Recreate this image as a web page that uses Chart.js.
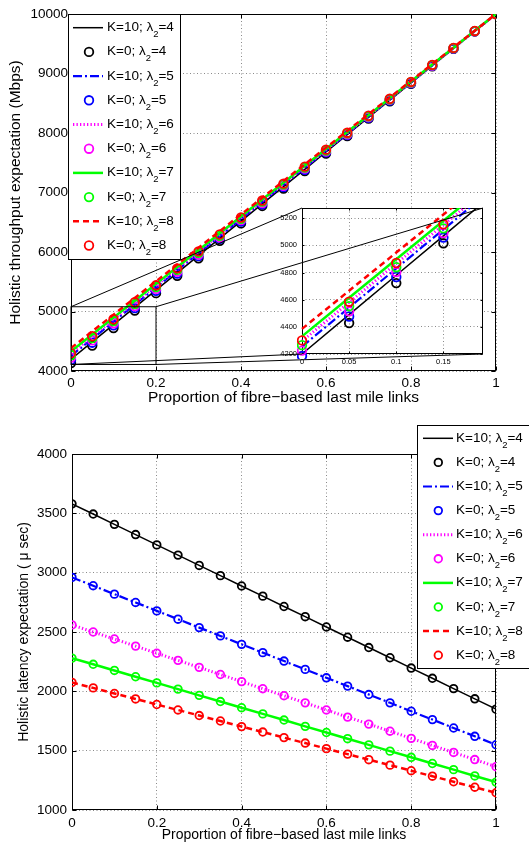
<!DOCTYPE html>
<html>
<head>
<meta charset="utf-8">
<title>Holistic throughput and latency expectation</title>
<script src="https://cdn.jsdelivr.net/npm/chart.js@4.4.1/dist/chart.umd.min.js"></script>
<style>
  html, body { margin: 0; padding: 0; background: #fff; }
  #wrap { position: relative; width: 529px; height: 844px; overflow: hidden; }
  canvas { position: absolute; left: 0; }
  #throughputChart { top: 0; }
  #insetChart { top: 0; z-index: 2; }
  #latencyChart { top: 420px; }
</style>
</head>
<body>
<div id="wrap">
  <canvas id="throughputChart" width="529" height="420"></canvas>
  <canvas id="insetChart" width="529" height="420"></canvas>
  <canvas id="latencyChart" width="529" height="424"></canvas>
</div>
<script>
const fontFamily = "'Liberation Sans', Arial, Helvetica, sans-serif";
Chart.defaults.font.family = fontFamily;
Chart.defaults.color = '#000';

const fibreShare = [0, 0.05, 0.1, 0.15, 0.2, 0.25, 0.3, 0.35, 0.4, 0.45, 0.5, 0.55, 0.6, 0.65, 0.7, 0.75, 0.8, 0.85, 0.9, 0.95, 1];
const lambdas = [4, 5, 6, 7, 8];

// throughput (Mbps), K=10 curves
const tputK10L4 = [4200, 4490, 4780, 5070, 5360, 5650, 5940, 6230, 6520, 6810, 7100, 7390, 7680, 7970, 8260, 8550, 8840, 9130, 9420, 9710, 10000];
const tputK10L5 = [4255, 4542, 4830, 5117, 5404, 5691, 5979, 6266, 6553, 6840, 7128, 7415, 7702, 7989, 8277, 8564, 8851, 9138, 9426, 9713, 10000];
const tputK10L6 = [4295, 4580, 4866, 5151, 5436, 5721, 6007, 6292, 6577, 6862, 7148, 7433, 7718, 8003, 8289, 8574, 8859, 9144, 9430, 9715, 10000];
const tputK10L7 = [4330, 4614, 4897, 5181, 5464, 5748, 6031, 6315, 6598, 6882, 7165, 7449, 7732, 8016, 8299, 8583, 8866, 9150, 9433, 9717, 10000];
const tputK10L8 = [4385, 4666, 4947, 5227, 5508, 5789, 6070, 6350, 6631, 6912, 7193, 7473, 7754, 8035, 8316, 8596, 8877, 9158, 9439, 9719, 10000];
// throughput (Mbps), K=0 markers
const tputK0L4 = [4135, 4428, 4722, 5015, 5308, 5601, 5895, 6188, 6481, 6774, 7068, 7361, 7654, 7947, 8241, 8534, 8827, 9120, 9414, 9707, 10000];
const tputK0L5 = [4185, 4476, 4767, 5057, 5348, 5639, 5930, 6220, 6511, 6802, 7093, 7383, 7674, 7965, 8256, 8546, 8837, 9128, 9419, 9709, 10000];
const tputK0L6 = [4225, 4514, 4803, 5091, 5380, 5669, 5958, 6246, 6535, 6824, 7113, 7401, 7690, 7979, 8268, 8556, 8845, 9134, 9423, 9711, 10000];
const tputK0L7 = [4265, 4552, 4839, 5125, 5412, 5699, 5986, 6272, 6559, 6846, 7133, 7419, 7706, 7993, 8280, 8566, 8853, 9140, 9427, 9713, 10000];
const tputK0L8 = [4300, 4585, 4870, 5155, 5440, 5725, 6010, 6295, 6580, 6865, 7150, 7435, 7720, 8005, 8290, 8575, 8860, 9145, 9430, 9715, 10000];

// latency (micro sec), K=10 curves; the K=0 markers sit on the same values
const latK10L4 = [3580, 3494, 3407, 3321, 3234, 3148, 3061, 2975, 2888, 2802, 2715, 2629, 2542, 2456, 2369, 2283, 2196, 2110, 2023, 1937, 1850];
const latK10L5 = [2960, 2890, 2819, 2749, 2678, 2608, 2537, 2467, 2396, 2326, 2255, 2185, 2114, 2044, 1973, 1903, 1832, 1762, 1691, 1621, 1550];
const latK10L6 = [2560, 2500, 2441, 2381, 2321, 2261, 2202, 2142, 2082, 2022, 1963, 1903, 1843, 1783, 1724, 1664, 1604, 1544, 1485, 1425, 1365];
const latK10L7 = [2280, 2228, 2176, 2123, 2071, 2019, 1966, 1914, 1862, 1810, 1758, 1705, 1653, 1601, 1549, 1496, 1444, 1392, 1340, 1287, 1235];
const latK10L8 = [2075, 2029, 1982, 1936, 1889, 1843, 1796, 1750, 1703, 1657, 1610, 1564, 1517, 1471, 1424, 1378, 1331, 1285, 1238, 1192, 1145];
const latK0L4 = latK10L4;
const latK0L5 = latK10L5;
const latK0L6 = latK10L6;
const latK0L7 = latK10L7;
const latK0L8 = latK10L8;

const shareTicks = [0, 0.2, 0.4, 0.6, 0.8, 1];
const tputTicks = [4000, 5000, 6000, 7000, 8000, 9000, 10000];
const latTicks = [1000, 1500, 2000, 2500, 3000, 3500, 4000];
const insetShareTicks = [0, 0.05, 0.1, 0.15];
const insetTputTicks = [4200, 4400, 4600, 4800, 5000, 5200];
const insetShareRange = [0, 0.192];
const insetTputRange = [4200, 5275];
const zoomShareRange = [0, 0.2];
const zoomTputRange = [4110, 5080];

const seriesStyles = [
  { color: '#000000', width: 1.5, dash: [] },
  { color: '#0000ff', width: 2.2, dash: [9, 3, 2, 3] },
  { color: '#ff00ff', width: 3, dash: [1.3, 2.2] },
  { color: '#00ff00', width: 2.5, dash: [] },
  { color: '#ff0000', width: 2.5, dash: [6, 4] }
];

function toPoints(values) {
  return values.map((v, i) => ({ x: fibreShare[i], y: v }));
}

function buildDatasets(k10Series, k0Series, radius, clip) {
  const sets = [];
  lambdas.forEach((lam, i) => {
    const st = seriesStyles[i];
    sets.push({
      label: `K=10; λ₂=${lam}`,
      data: toPoints(k10Series[i]),
      borderColor: st.color,
      borderWidth: st.width,
      borderDash: st.dash,
      pointRadius: 0,
      pointHoverRadius: 0,
      tension: 0,
      clip: clip,
      order: 20 - sets.length
    });
    sets.push({
      label: `K=0; λ₂=${lam}`,
      data: toPoints(k0Series[i]),
      showLine: false,
      borderColor: st.color,
      backgroundColor: 'rgba(0,0,0,0)',
      pointStyle: 'circle',
      pointRadius: radius,
      pointHoverRadius: radius,
      pointBorderColor: st.color,
      pointBackgroundColor: 'rgba(0,0,0,0)',
      pointBorderWidth: 1.8,
      clip: clip,
      order: 20 - sets.length
    });
  });
  return sets;
}

function linearScale(cfg) {
  return {
    type: 'linear',
    min: cfg.min,
    max: cfg.max,
    afterBuildTicks: scale => { scale.ticks = cfg.ticks.map(v => ({ value: v })); },
    afterFit: scale => {
      if (scale.isHorizontal()) scale.height = cfg.box;
      else scale.width = cfg.box;
    },
    grid: { color: '#8a8a8a', lineWidth: 1, drawTicks: false },
    border: { display: false, dash: [1, 2.5] },
    ticks: {
      font: { size: cfg.fontSize },
      padding: cfg.pad,
      maxRotation: 0,
      autoSkip: false,
      callback: v => String(v)
    },
    title: cfg.title
      ? { display: true, text: cfg.title, font: { size: cfg.titleSize }, padding: cfg.titlePad }
      : { display: false }
  };
}

function frameTicks(len) {
  return {
    id: 'frameTicks',
    beforeDatasetsDraw(chart) {
      const { ctx, chartArea: a, scales } = chart;
      const x0 = Math.round(a.left) + 0.5;
      const x1 = Math.round(a.right) - 0.5;
      const y0 = Math.round(a.top) + 0.5;
      const y1 = Math.round(a.bottom) - 0.5;
      ctx.save();
      ctx.strokeStyle = '#000';
      ctx.lineWidth = 1;
      ctx.setLineDash([]);
      ctx.strokeRect(x0, y0, x1 - x0, y1 - y0);
      ctx.beginPath();
      scales.x.ticks.forEach(t => {
        const px = Math.round(scales.x.getPixelForValue(t.value)) + 0.5;
        ctx.moveTo(px, y1); ctx.lineTo(px, y1 - len);
        ctx.moveTo(px, y0); ctx.lineTo(px, y0 + len);
      });
      scales.y.ticks.forEach(t => {
        const py = Math.round(scales.y.getPixelForValue(t.value)) + 0.5;
        ctx.moveTo(x0, py); ctx.lineTo(x0 + len, py);
        ctx.moveTo(x1, py); ctx.lineTo(x1 - len, py);
      });
      ctx.stroke();
      ctx.restore();
    }
  };
}

function drawLabel(ctx, text, x, y, size) {
  const parts = text.split('₂');
  const base = y + size * 0.26;
  ctx.fillStyle = '#000';
  ctx.textAlign = 'left';
  ctx.textBaseline = 'alphabetic';
  ctx.font = `${size}px ${fontFamily}`;
  ctx.fillText(parts[0], x, base);
  let cx = x + ctx.measureText(parts[0]).width;
  if (parts.length > 1) {
    ctx.font = `${size * 0.7}px ${fontFamily}`;
    ctx.fillText('2', cx, base + size * 0.45);
    cx += ctx.measureText('2').width;
    ctx.font = `${size}px ${fontFamily}`;
    ctx.fillText(parts[1], cx, base);
  }
}

function boxLegend(box) {
  return {
    id: 'boxLegend',
    afterDraw(chart) {
      const ctx = chart.ctx;
      ctx.save();
      ctx.fillStyle = '#fff';
      ctx.fillRect(box.left, box.top, box.width, box.height);
      ctx.strokeStyle = '#000';
      ctx.lineWidth = 1;
      ctx.setLineDash([]);
      ctx.strokeRect(box.left, box.top, box.width, box.height);
      chart.data.datasets.forEach((ds, i) => {
        const y = box.firstRow + i * box.rowStep;
        ctx.beginPath();
        if (ds.showLine === false) {
          ctx.setLineDash([]);
          ctx.arc(box.markerX, y, ds.pointRadius, 0, Math.PI * 2);
          ctx.strokeStyle = ds.pointBorderColor;
          ctx.lineWidth = ds.pointBorderWidth;
        } else {
          ctx.setLineDash(ds.borderDash);
          ctx.moveTo(box.lineStart, y);
          ctx.lineTo(box.lineEnd, y);
          ctx.strokeStyle = ds.borderColor;
          ctx.lineWidth = ds.borderWidth;
        }
        ctx.stroke();
        ctx.setLineDash([]);
        drawLabel(ctx, ds.label, box.textX, y, box.fontSize);
      });
      ctx.restore();
    }
  };
}

const whiteArea = {
  id: 'whiteArea',
  beforeDraw(chart) {
    const { ctx, chartArea: a } = chart;
    ctx.save();
    ctx.fillStyle = '#fff';
    ctx.fillRect(a.left, a.top, a.right - a.left, a.bottom - a.top);
    ctx.restore();
  }
};

function zoomGuide(mainChart) {
  return {
    id: 'zoomGuide',
    afterDraw(chart) {
      const { x, y } = mainChart.scales;
      const a = chart.chartArea;
      const l = x.getPixelForValue(zoomShareRange[0]);
      const r = x.getPixelForValue(zoomShareRange[1]);
      const t = y.getPixelForValue(zoomTputRange[1]);
      const b = y.getPixelForValue(zoomTputRange[0]);
      const ctx = chart.ctx;
      ctx.save();
      ctx.strokeStyle = '#000';
      ctx.lineWidth = 1;
      ctx.setLineDash([]);
      ctx.strokeRect(l, t, r - l, b - t);
      ctx.beginPath();
      ctx.moveTo(l, t); ctx.lineTo(a.left, a.top);
      ctx.moveTo(r, t); ctx.lineTo(a.right, a.top);
      ctx.moveTo(l, b); ctx.lineTo(a.left, a.bottom);
      ctx.moveTo(r, b); ctx.lineTo(a.right, a.bottom);
      ctx.stroke();
      ctx.restore();
    }
  };
}

const baseOptions = {
  responsive: false,
  animation: false,
  events: [],
  plugins: { legend: { display: false }, tooltip: { enabled: false } }
};

const throughputChart = new Chart(document.getElementById('throughputChart'), {
  type: 'line',
  data: {
    datasets: buildDatasets(
      [tputK10L4, tputK10L5, tputK10L6, tputK10L7, tputK10L8],
      [tputK0L4, tputK0L5, tputK0L6, tputK0L7, tputK0L8], 4.3)
  },
  options: {
    ...baseOptions,
    layout: { padding: { left: 0, top: 14, right: 33, bottom: 9 } },
    scales: {
      x: linearScale({ min: 0, max: 1, ticks: shareTicks, fontSize: 13.5, pad: 4, box: 40,
        title: 'Proportion of fibre\u2212based last mile links', titleSize: 15.5, titlePad: { top: 0, bottom: 4 } }),
      y: linearScale({ min: 4000, max: 10000, ticks: tputTicks, fontSize: 13.5, pad: 3, box: 71,
        title: 'Holistic throughput expectation (Mbps)', titleSize: 15.5, titlePad: { top: 6, bottom: 0 } })
    }
  },
  plugins: [frameTicks(4), boxLegend({
    left: 68.5, top: 14.5, width: 112, height: 245,
    firstRow: 27.7, rowStep: 24.2, lineStart: 73, lineEnd: 103, markerX: 89, textX: 107, fontSize: 13.5
  })]
});

const insetChart = new Chart(document.getElementById('insetChart'), {
  type: 'line',
  data: {
    datasets: buildDatasets(
      [tputK10L4, tputK10L5, tputK10L6, tputK10L7, tputK10L8],
      [tputK0L4, tputK0L5, tputK0L6, tputK0L7, tputK0L8], 4.3,
      { left: 5, top: 0, right: 0, bottom: 5 })
  },
  options: {
    ...baseOptions,
    layout: { padding: { left: 276, top: 208, right: 46, bottom: 52 } },
    scales: {
      x: linearScale({ min: insetShareRange[0], max: insetShareRange[1], ticks: insetShareTicks, fontSize: 7.5, pad: 3, box: 14 }),
      y: linearScale({ min: insetTputRange[0], max: insetTputRange[1], ticks: insetTputTicks, fontSize: 7.5, pad: 5, box: 26 })
    }
  },
  plugins: [whiteArea, frameTicks(2), zoomGuide(throughputChart)]
});

const latencyChart = new Chart(document.getElementById('latencyChart'), {
  type: 'line',
  data: {
    datasets: buildDatasets(
      [latK10L4, latK10L5, latK10L6, latK10L7, latK10L8],
      [latK0L4, latK0L5, latK0L6, latK0L7, latK0L8], 3.8)
  },
  options: {
    ...baseOptions,
    layout: { padding: { left: 0, top: 34, right: 33, bottom: 0 } },
    scales: {
      x: linearScale({ min: 0, max: 1, ticks: shareTicks, fontSize: 13.5, pad: 5, box: 34,
        title: 'Proportion of fibre\u2212based last mile links', titleSize: 14, titlePad: { top: 0, bottom: 0 } }),
      y: linearScale({ min: 1000, max: 4000, ticks: latTicks, fontSize: 13.5, pad: 5, box: 72,
        title: 'Holistic latency expectation ( μ sec)', titleSize: 14, titlePad: { top: 16, bottom: 0 } })
    }
  },
  plugins: [frameTicks(4), boxLegend({
    left: 417.5, top: 5.5, width: 130, height: 243,
    firstRow: 18.3, rowStep: 24.1, lineStart: 423, lineEnd: 453, markerX: 438.3, textX: 456, fontSize: 13.5
  })]
});
</script>
</body>
</html>
